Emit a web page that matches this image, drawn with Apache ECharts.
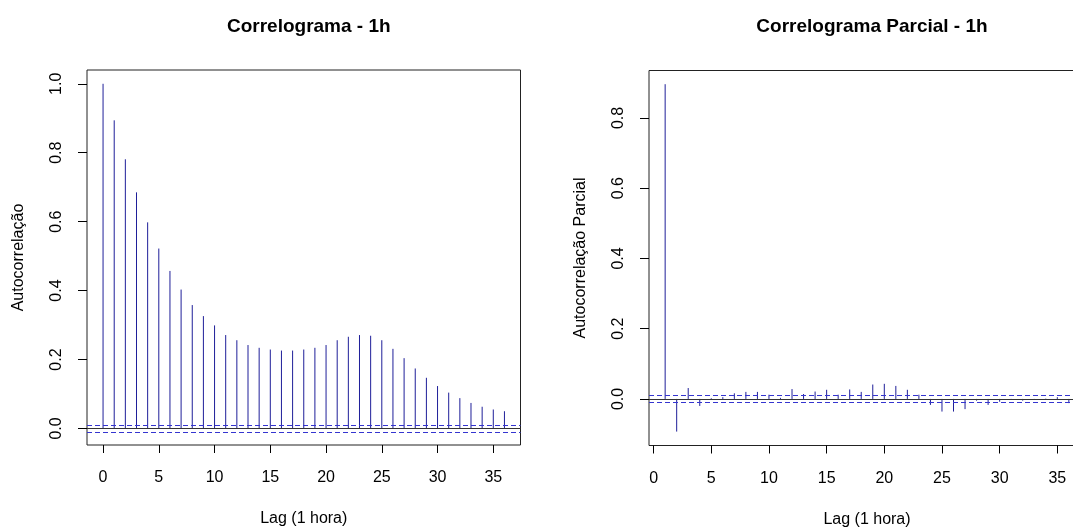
<!DOCTYPE html>
<html>
<head>
<meta charset="utf-8">
<script src="https://cdn.jsdelivr.net/npm/echarts@6/dist/echarts.min.js"></script>
<style>
html,body{margin:0;padding:0;background:#fff;}
#chart{width:1073px;height:527px;}
</style>
</head>
<body>
<div id="chart"></div>
<script>
// ---- data ----
const acfLags = [0,1,2,3,4,5,6,7,8,9,10,11,12,13,14,15,16,17,18,19,20,21,22,23,24,25,26,27,28,29,30,31,32,33,34,35,36];
const acfValues = [1.000,0.894,0.781,0.685,0.598,0.522,0.457,0.403,0.358,0.326,0.299,0.271,0.256,0.242,0.234,0.229,0.226,0.226,0.229,0.234,0.242,0.256,0.266,0.271,0.269,0.256,0.231,0.204,0.174,0.147,0.123,0.104,0.088,0.074,0.063,0.055,0.050];
const pacfLags = [1,2,3,4,5,6,7,8,9,10,11,12,13,14,15,16,17,18,19,20,21,22,23,24,25,26,27,28,29,30,31,32,33,34,35,36];
const pacfValues = [0.896,-0.093,0.031,-0.020,0.002,0.005,0.016,0.020,0.020,0.012,0.003,0.028,0.014,0.021,0.026,0.012,0.027,0.020,0.041,0.043,0.037,0.026,0.012,-0.017,-0.036,-0.036,-0.029,-0.005,-0.017,-0.008,-0.002,-0.005,-0.002,0.001,0.005,-0.012];
const confLimit = 0.0085;
const xTickValues = [0,5,10,15,20,25,30,35];
const acfYTicks = [0.0,0.2,0.4,0.6,0.8,1.0];
const pacfYTicks = [0.0,0.2,0.4,0.6,0.8];
const titles = ['Correlograma - 1h','Correlograma Parcial - 1h'];
const xName = 'Lag (1 hora)';
const yNames = ['Autocorrelação','Autocorrelação Parcial'];

// ---- styling ----
const FONT = 'Liberation Sans, Arial, sans-serif';
const stemColor = '#1f1f99';
const ciColor = '#3535d0';

function pairs(xs, ys){ return xs.map((x,i)=>[x, ys[i]]); }

function renderStem(params, api){
  const x = api.value(0), y = api.value(1);
  const p0 = api.coord([x, 0]);
  const p1 = api.coord([x, y]);
  return {type:'line', shape:{x1:p0[0], y1:p0[1], x2:p1[0], y2:p1[1]},
          style:{stroke: stemColor, lineWidth: 1}};
}

function xAxisCfg(idx, min, max){
  return {
    type:'value', gridIndex: idx, min: min, max: max,
    name: xName, nameLocation:'middle', nameGap: 66,
    nameTextStyle:{fontFamily:FONT, fontSize:16, color:'#000'},
    axisLine:{show:false, onZero:false},
    splitLine:{show:false},
    axisTick:{show:true, inside:false, length:8, customValues: xTickValues, lineStyle:{color:'#000'}},
    axisLabel:{show:true, margin:25, customValues: xTickValues, fontFamily:FONT, fontSize:16, color:'#000',
               formatter: v => String(v)}
  };
}
function yAxisCfg(idx, min, max, ticks, name){
  return {
    type:'value', gridIndex: idx, min: min, max: max,
    name: name, nameLocation:'middle', nameGap: 60, nameRotate: 90,
    nameTextStyle:{fontFamily:FONT, fontSize:16, color:'#000'},
    axisLine:{show:false, onZero:false},
    splitLine:{show:false},
    axisTick:{show:true, inside:false, length:9, customValues: ticks, lineStyle:{color:'#000'}},
    axisLabel:{show:true, rotate:90, margin:22, customValues: ticks, fontFamily:FONT, fontSize:16, color:'#000',
               formatter: v => Number(v).toFixed(1)}
  };
}
function refLines(){
  return {
    silent:true, symbol:['none','none'], label:{show:false}, animation:false,
    emphasis:{disabled:true},
    data:[
      {yAxis: 0, lineStyle:{color:'#333', type:'solid', width:1}},
      {yAxis: confLimit, lineStyle:{color:ciColor, type:[5,3], width:1}},
      {yAxis: -confLimit, lineStyle:{color:ciColor, type:[5,3], width:1}}
    ]
  };
}

const chart = echarts.init(document.getElementById('chart'), null, {renderer:'canvas'});
chart.setOption({
  animation:false,
  backgroundColor:'#fff',
  title:[
    {text: titles[0], left: 303.8, top: 12, textAlign:'center',
     textStyle:{fontFamily:FONT, fontSize:19, fontWeight:'bold', color:'#000'}},
    {text: titles[1], left: 867, top: 12, textAlign:'center',
     textStyle:{fontFamily:FONT, fontSize:19, fontWeight:'bold', color:'#000'}}
  ],
  grid:[
    {left:87, top:70, width:433.5, height:375, show:true, borderColor:'#222', borderWidth:1,
     backgroundColor:'transparent', outerBoundsMode:'none', containLabel:false},
    {left:649, top:70.5, width:436, height:375, show:true, borderColor:'#222', borderWidth:1,
     backgroundColor:'transparent', outerBoundsMode:'none', containLabel:false}
  ],
  xAxis:[ xAxisCfg(0, -1.44, 37.44), xAxisCfg(1, -0.4, 37.4) ],
  yAxis:[ yAxisCfg(0, -0.048, 1.04, acfYTicks, yNames[0]),
          yAxisCfg(1, -0.1326, 0.935, pacfYTicks, yNames[1]) ],
  series:[
    {type:'custom', xAxisIndex:0, yAxisIndex:0, renderItem: renderStem,
     data: pairs(acfLags, acfValues), markLine: refLines(), silent:true},
    {type:'custom', xAxisIndex:1, yAxisIndex:1, renderItem: renderStem,
     data: pairs(pacfLags, pacfValues), markLine: refLines(), silent:true}
  ]
});
</script>
</body>
</html>
